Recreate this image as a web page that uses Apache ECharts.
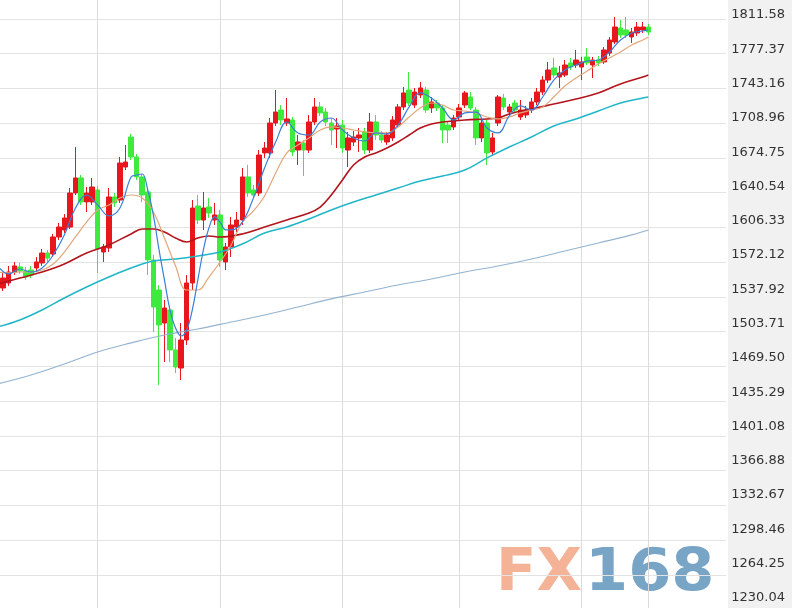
<!DOCTYPE html>
<html><head><meta charset="utf-8">
<script src="https://cdn.jsdelivr.net/npm/echarts@6/dist/echarts.min.js"></script>
<style>html,body{margin:0;padding:0;background:#fff}#c{width:792px;height:608px}</style>
</head><body><div id="c"></div>
<script>
// ---------- data ----------
const tickLabels = ['1230.04','1264.25','1298.46','1332.67','1366.88','1401.08','1435.29','1469.50','1503.71',
  '1537.92','1572.12','1606.33','1640.54','1674.75','1708.96','1743.16','1777.37','1811.58'];
const yMin = 1230.04, yTop = 1811.58;

const open = [1572.4,1546.8,1551.7,1562.5,1567.5,1563.5,1564.5,1566.5,1571.4,1581.2,
  1580.3,1597.0,1603.9,1606.8,1640.3,1655.1,1631.5,1631.5,
  1643.3,1582.2,1586.2,1636.4,1633.4,1665.9,1695.4,1675.8,1656.1,1641.3,1574.4,1544.8,1512.3,1525.1,1485.8,1468.0,1495.6,1551.7,1627.5,1613.7,1626.5,1613.7,
  1618.7,1572.4,1587.2,1606.8,1613.7,1656.1,1643.3,1640.3,1679.7,1679.7,1709.2,1722.0,1709.2,1712.2,1682.6,1689.5,1682.6,1710.2,1725.0,1720.0,1709.2,1703.3,
  1707.2,1682.6,1690.5,1694.5,1700.4,1682.6,1710.2,1697.4,1690.5,1694.5,1707.2,1725.0,1741.7,1726.9,1736.8,1741.7,1724.0,1728.9,1724.0,1707.2,1705.3,
  1715.1,1726.9,1734.8,1722.0,1694.5,1709.2,1680.7,1709.2,1733.8,1720.0,1728.9,1715.1,1717.1,1722.0,1729.9,1739.7,1751.5,1763.4,1754.5,1756.5,1768.3,1766.3,
  1764.3,1774.2,1766.3,1771.2,1769.3,1778.1,1789.0,1802.7,1800.8,1793.9,1797.8,1800.8,1803.7];
const close = [1557.6,1556.6,1562.5,1568.5,1563.5,1557.6,1559.6,1572.4,1581.2,1576.3,
  1597.0,1606.8,1615.7,1640.3,1655.1,1631.5,1640.3,1646.2,
  1585.2,1587.2,1636.4,1630.5,1669.8,1670.8,1675.8,1656.1,1638.3,1574.4,1528.1,1510.4,1527.1,1485.8,1469.0,1495.6,1551.7,1625.5,1613.7,1625.5,1620.6,1618.7,
  1574.4,1587.2,1608.8,1613.7,1656.1,1640.3,1638.3,1677.7,1684.6,1709.2,1720.0,1712.2,1713.2,1680.7,1690.5,1682.6,1710.2,1725.0,1719.1,1710.2,1702.3,1706.3,
  1684.6,1694.5,1695.4,1697.4,1682.6,1710.2,1697.4,1692.5,1697.4,1712.2,1725.0,1738.8,1728.9,1739.7,1743.7,1722.0,1729.9,1724.0,1702.3,1702.3,1714.1,
  1724.0,1738.8,1724.0,1694.5,1709.2,1679.7,1694.5,1734.8,1725.0,1725.0,1722.0,1722.0,1722.0,1729.9,1739.7,1751.5,1761.4,1756.5,1758.4,1766.3,1764.3,1771.2,
  1769.3,1768.3,1771.2,1768.3,1781.1,1790.9,1803.7,1795.8,1795.8,1798.8,1803.7,1803.7,1798.8];
const low = [1554.7,1543.8,1548.8,1559.6,1560.6,1554.7,1556.6,1563.5,1568.5,1572.4,
  1577.3,1594.0,1600.9,1604.9,1638.3,1628.5,1621.6,1628.5,
  1561.6,1572.4,1582.2,1626.5,1630.5,1663.0,1672.8,1653.1,1631.5,1559.6,1503.5,1451.3,1473.9,1473.9,1463.1,1456.2,1490.7,1544.8,1609.8,1603.9,1615.7,1608.8,
  1567.5,1564.5,1577.3,1601.9,1608.8,1636.4,1635.4,1637.4,1674.8,1674.8,1706.3,1707.2,1706.3,1676.7,1667.9,1657.0,1679.7,1707.2,1716.1,1706.3,1687.6,1684.6,
  1679.7,1665.9,1686.6,1680.7,1678.7,1679.7,1692.5,1689.5,1687.6,1691.5,1704.3,1722.0,1726.0,1724.0,1733.8,1719.1,1719.1,1721.0,1689.5,1689.5,1702.3,
  1712.2,1724.0,1722.0,1687.6,1690.5,1667.9,1676.7,1706.3,1722.0,1717.1,1719.1,1712.2,1714.1,1719.1,1726.9,1736.8,1748.6,1753.5,1743.7,1754.5,1761.4,1763.4,
  1751.5,1766.3,1753.5,1765.3,1767.3,1775.2,1787.0,1792.9,1792.9,1788.0,1794.9,1797.8,1795.8];
const high = [1576.3,1562.5,1568.5,1572.4,1571.4,1567.5,1568.5,1577.3,1585.2,1584.2,
  1600.0,1610.8,1619.6,1645.2,1685.6,1658.0,1646.2,1655.1,
  1647.2,1590.1,1645.2,1640.3,1675.8,1687.6,1698.4,1678.7,1659.0,1645.2,1579.3,1549.7,1535.0,1529.1,1497.6,1512.3,1559.6,1633.4,1638.3,1641.3,1635.4,1630.5,
  1623.6,1591.1,1616.7,1621.6,1664.9,1667.9,1648.2,1682.6,1690.5,1714.1,1741.7,1726.9,1733.8,1715.1,1697.4,1692.5,1717.1,1733.8,1729.9,1724.0,1714.1,1714.1,
  1712.2,1700.4,1701.3,1704.3,1704.3,1719.1,1717.1,1701.3,1700.4,1716.1,1727.9,1744.7,1759.4,1743.7,1749.6,1744.7,1734.8,1731.9,1726.9,1710.2,1717.1,
  1727.9,1740.7,1739.7,1725.0,1714.1,1712.2,1699.4,1736.8,1737.8,1727.9,1731.9,1731.9,1726.0,1733.8,1743.7,1755.5,1769.3,1773.2,1765.3,1771.2,1773.2,1781.1,
  1774.2,1783.0,1774.2,1775.2,1784.0,1793.9,1813.6,1810.6,1813.6,1802.7,1808.6,1808.6,1806.7];

// moving averages, [slot, value] read at sampled slots
const ma5 = [[0,1568.5],[2,1560.6],[4,1565.5],[6,1562.5],[8,1566.5],[10,1579.3],[12,1599.0],[14,1625.5],[16,1638.3],[18,1628.5],
  [20,1617.7],[22,1625.5],[24,1656.1],[25,1658.0],[26,1659.0],[27,1643.3],[28,1618.7],[29,1585.2],[30,1554.7],[31,1525.1],
  [32,1507.4],[33,1499.5],[34,1505.4],[35,1525.1],[36,1554.7],[37,1584.2],[38,1605.8],[39,1616.7],[40,1611.7],[41,1603.9],
  [42,1603.9],[44,1611.7],[46,1635.4],[48,1664.9],[50,1690.5],[52,1710.2],[54,1699.4],[56,1697.4],[58,1710.2],[60,1714.1],
  [62,1702.3],[64,1694.5],[66,1691.5],[68,1699.4],[70,1698.4],[72,1707.2],[74,1725.0],[76,1738.8],[78,1733.8],[80,1724.0],
  [82,1712.2],[84,1719.1],[86,1720.0],[88,1704.3],[90,1699.4],[92,1716.1],[94,1726.0],[96,1722.0],[98,1734.8],[100,1751.5],
  [102,1761.4],[104,1766.3],[106,1770.2],[108,1771.2],[110,1779.1],[112,1790.9],[114,1797.8],[116,1799.8],[117,1800.8]];
const ma10 = [[0,1562.5],[2,1561.6],[4,1562.5],[6,1562.5],[8,1564.5],[10,1570.4],[12,1582.2],[14,1597.0],[16,1611.7],[18,1623.6],
  [20,1628.5],[22,1635.4],[24,1638.3],[26,1635.4],[28,1621.6],[30,1596.0],[32,1568.4],[34,1544.8],[36,1544.8],[38,1557.6],
  [40,1572.4],[42,1589.1],[44,1611.7],[46,1622.6],[48,1637.4],[50,1660.0],[52,1679.7],[54,1687.6],[56,1694.5],[58,1702.3],
  [60,1705.3],[62,1704.3],[64,1702.3],[66,1700.4],[68,1699.4],[70,1699.4],[72,1705.3],[74,1715.1],[76,1724.0],[78,1728.9],
  [80,1726.9],[82,1722.0],[84,1721.0],[86,1719.1],[88,1715.1],[90,1713.2],[92,1715.1],[94,1719.1],[96,1722.0],[98,1725.0],
  [100,1734.8],[102,1745.6],[104,1753.5],[106,1760.4],[108,1767.3],[110,1773.2],[112,1779.1],[114,1786.0],[116,1790.9],[117,1793.9]];
const ma30 = [[0,1550.7],[4,1556.6],[8,1562.5],[12,1570.4],[16,1581.2],[20,1589.1],[24,1600.0],[26,1604.9],[28,1604.9],[30,1601.9],
  [32,1596.0],[34,1592.1],[36,1596.0],[38,1598.0],[40,1597.0],[44,1600.0],[48,1606.8],[52,1613.7],[56,1620.6],[58,1626.5],
  [60,1638.3],[62,1653.1],[64,1667.9],[66,1675.8],[68,1679.7],[70,1684.6],[72,1690.5],[74,1697.4],[76,1704.3],[78,1708.2],
  [80,1710.2],[84,1712.2],[88,1713.2],[90,1714.1],[92,1718.1],[94,1721.0],[96,1723.0],[100,1727.9],[104,1732.8],[108,1738.7],
  [112,1747.6],[116,1754.5],[117,1756.5]];
const ma60 = [[0,1508.4],[4,1515.3],[8,1525.1],[12,1536.9],[16,1547.8],[20,1557.6],[24,1566.5],[28,1573.4],[32,1575.3],[36,1578.3],
  [40,1582.2],[44,1590.1],[48,1600.9],[52,1606.8],[56,1614.7],[60,1623.6],[64,1631.4],[68,1638.3],[72,1645.2],[76,1652.1],
  [80,1657.0],[84,1662.9],[88,1674.8],[92,1685.6],[96,1695.4],[100,1706.3],[104,1713.2],[108,1721.0],[112,1728.9],[116,1733.8],[117,1734.8]];
const ma200 = [[0,1452.3],[6,1461.1],[12,1472.0],[18,1483.8],[24,1492.7],[30,1500.5],[36,1506.4],[42,1513.3],[48,1520.2],[54,1528.1],
  [60,1536.0],[66,1542.8],[72,1549.7],[78,1555.6],[84,1562.5],[90,1568.4],[96,1575.3],[102,1583.2],[108,1591.1],[114,1599.0],[117,1603.9]];

const monthLines = [18, 40, 62, 83, 105, 117];   // slots carrying a vertical grid line
const slotCount = 132;                            // candle slots incl. empty right margin
const categories = Array.from({length: slotCount}, (_, i) => 'D' + i);

// ---------- chart ----------
const step = (yTop - yMin) / (tickLabels.length - 1);
const candles = open.map((o, i) => [o, close[i], low[i], high[i]]);
const UP = '#e8161d', DOWN = '#3eea3e';
const FONT = '"DejaVu Sans", Verdana, sans-serif';

const chart = echarts.init(document.getElementById('c'), null, {renderer: 'canvas'});
const gridLeft = -2.41, gridWidth = 728.6;
const line = (name, data, color, width, z) => ({
  name, type: 'line', data, xAxisIndex: 0, yAxisIndex: 0, symbol: 'none', showSymbol: false,
  smooth: 0.4, lineStyle: {color, width}, z, silent: true
});
chart.setOption({
  animation: false,
  backgroundColor: '#ffffff',
  grid: [
    {left: gridLeft, top: 0, width: gridWidth, height: 609.75, outerBoundsMode: 'none', containLabel: false},
    {left: gridLeft, top: 15, width: gridWidth, height: 583, outerBoundsMode: 'none', containLabel: false}
  ],
  xAxis: [
    {type: 'category', gridIndex: 0, data: categories, boundaryGap: false,
     axisLine: {show: false}, axisTick: {show: false}, axisLabel: {show: false},
     splitLine: {show: true, interval: (i) => monthLines.includes(i), lineStyle: {color: '#dcdcdc', width: 1}}},
    {type: 'category', gridIndex: 1, data: categories, boundaryGap: false, show: false}
  ],
  yAxis: [
    {type: 'value', gridIndex: 0, position: 'right', min: yMin, max: yMin + (yTop - yMin) * 609.75 / 590.75,
     interval: step, axisLine: {show: false}, axisTick: {show: false}, axisLabel: {show: false},
     splitLine: {show: true, showMaxLine: false, lineStyle: {color: '#e3e3e3', width: 1}}},
    {type: 'value', gridIndex: 1, position: 'right', min: yMin, max: yTop, interval: step,
     axisLine: {show: false}, axisTick: {show: false}, splitLine: {show: false},
     axisLabel: {show: true, margin: 5, color: '#333333', fontFamily: FONT, fontSize: 13,
       formatter: (v) => { const k = Math.round((v - yMin) / step); return tickLabels[k] || ''; }}}
  ],
  graphic: [
    {type: 'rect', z: -5, shape: {x: 728, y: 0, width: 64, height: 608}, style: {fill: '#f1f1f1'}},
    {type: 'text', z: -5, x: 496, y: 546, scaleX: 1.02, style: {text: 'FX', font: 'bold 58px "DejaVu Sans"', fill: '#f4b296', textVerticalAlign: 'top', verticalAlign: 'top'}},
    {type: 'text', z: -5, x: 585, y: 546, scaleX: 1.07, style: {text: '168', font: 'bold 58px "DejaVu Sans"', fill: '#78a4c6', textVerticalAlign: 'top', verticalAlign: 'top'}}
  ],
  series: [
    {type: 'candlestick', xAxisIndex: 0, yAxisIndex: 0, data: candles, barWidth: 5, z: 2,
     itemStyle: {color: UP, color0: DOWN, borderColor: UP, borderColor0: DOWN, borderWidth: 1}},
    line('MA200', ma200, '#94b3d0', 1.2, 3),
    line('MA60', ma60, '#20b6c9', 1.5, 3),
    line('MA30', ma30, '#b3141c', 1.6, 4),
    line('MA10', ma10, '#e2a679', 1.2, 5),
    line('MA5', ma5, '#3c7fd6', 1.2, 6)
  ]
});
</script></body></html>
